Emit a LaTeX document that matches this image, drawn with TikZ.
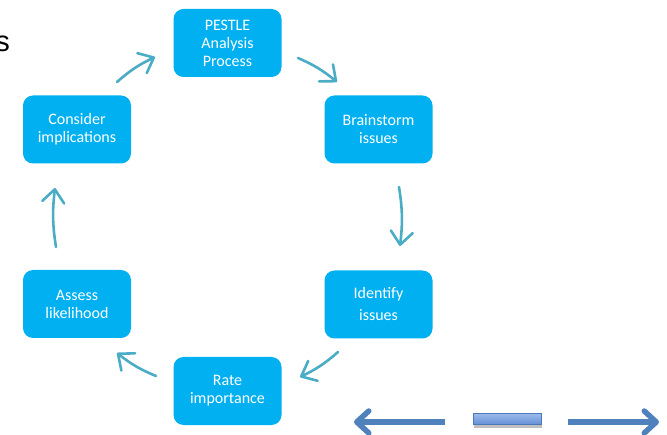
\documentclass[tikz,border=0pt]{standalone}
\usepackage{fontspec}
\setmainfont{Carlito}
\newfontfamily\arialfont{Liberation Sans}
\usetikzlibrary{arrows.meta,bending,shadows}

\definecolor{boxcyan}{HTML}{00B0F0}
\definecolor{flowteal}{HTML}{4BACC6}
\definecolor{navblue}{HTML}{4F81BD}
\definecolor{barlight}{HTML}{9DBBEC}
\definecolor{barmid}{HTML}{638FD6}
\definecolor{bardark}{HTML}{4A78B8}

\tikzset{
  stepbox/.style={rectangle, rounded corners=10pt, fill=boxcyan,
    minimum width=108pt, minimum height=68pt, inner sep=0pt,
    text=white, align=center, font=\fontsize{16}{18}\selectfont},
  flow/.style={draw=flowteal, line width=2.6pt, line cap=round,
    -{Straight Barb[length=13pt,width=22pt,round]}, bend left=8},
  navarrow/.style={draw=navblue, line width=5.5pt,
    -{Straight Barb[length=12pt,width=22pt,round]}},
  navbar/.style={rectangle, minimum width=68pt, minimum height=11pt,
    inner sep=0pt, draw=bardark, line width=1pt,
    top color=barlight, bottom color=barmid,
    drop shadow={shadow xshift=0pt, shadow yshift=-3pt, opacity=0.25, fill=black}}
}

\begin{document}
\begin{tikzpicture}[x=1pt,y=1pt]
\useasboundingbox (0,0) rectangle (667,434);

% leftover letter at the top-left edge
\node[anchor=base east, inner sep=0pt, font=\arialfont\fontsize{29}{30}\selectfont] (sglyph) at (10,382) {s};

% the six steps of the cycle
\node[stepbox] (pestle) at (227.5,391) {PESTLE\\Analysis\\Process};
\node[stepbox] (brain) at (378.5,304.5) {Brainstorm\\issues};
\node[stepbox, font=\fontsize{16}{22}\selectfont] (ident) at (378.5,129.5) {Identify\\issues};
\node[stepbox] (rate) at (227.5,43) {Rate\\importance};
\node[stepbox] (assess) at (77,130) {Assess\\likelihood};
\node[stepbox] (consider) at (77,304.5) {Consider\\implications};

% ends of the curved connectors
\coordinate (cp1) at (117,352);  \coordinate (cp2) at (155,377);
\coordinate (pb1) at (298,376);  \coordinate (pb2) at (337,352);
\coordinate (bi1) at (399,247);  \coordinate (bi2) at (400,188);
\coordinate (ir1) at (338,82);   \coordinate (ir2) at (300,57);
\coordinate (ra1) at (156,58);   \coordinate (ra2) at (117,81);
\coordinate (ac1) at (56,187);   \coordinate (ac2) at (55,246);

\draw[flow] (cp1) to (cp2);
\draw[flow] (pb1) to (pb2);
\draw[flow] (bi1) to (bi2);
\draw[flow] (ir1) to (ir2);
\draw[flow] (ra1) to (ra2);
\draw[flow] (ac1) to (ac2);

% navigation strip
\coordinate (navl1) at (445,12); \coordinate (navl2) at (354,12);
\coordinate (navr1) at (568,12); \coordinate (navr2) at (659,12);
\draw[navarrow] (navl1) -- (navl2);
\draw[navarrow] (navr1) -- (navr2);
\node[navbar] (navmid) at (507.5,15) {};
\end{tikzpicture}
\end{document}
